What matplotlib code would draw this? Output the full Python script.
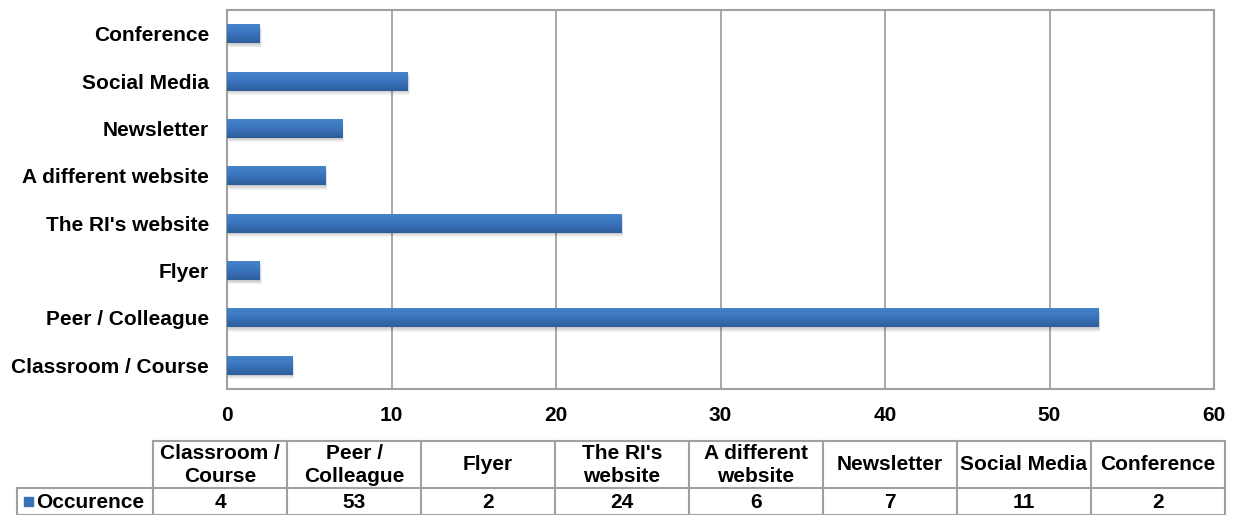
import numpy as np
import matplotlib
matplotlib.use("Agg")
import matplotlib.pyplot as plt
from matplotlib.colors import LinearSegmentedColormap
from matplotlib.patches import Rectangle

plt.rcParams['font.family'] = ['Liberation Sans', 'DejaVu Sans']
plt.rcParams['font.weight'] = 'bold'

categories = ['Classroom / Course', 'Peer / Colleague', 'Flyer', "The RI's website",
              'A different website', 'Newsletter', 'Social Media', 'Conference']
header_labels = ['Classroom /\nCourse', 'Peer /\nColleague', 'Flyer', "The RI's\nwebsite",
                 'A different\nwebsite', 'Newsletter', 'Social Media', 'Conference']
occurence = [4, 53, 2, 24, 6, 7, 11, 2]
series_name = 'Occurence'
xticks = [0, 10, 20, 30, 40, 50, 60]

FS = 15
W, H = 1234, 515
fig = plt.figure(figsize=(W / 100, H / 100), dpi=100)

# main bar axes
ax = fig.add_axes([227 / W, 1 - 389 / H, (1214 - 227) / W, (389 - 10) / H])
pos = np.arange(len(categories))
bh = 0.4
bars = ax.barh(pos, occurence, height=bh, color='#3a70b8', zorder=3)

# soft drop shadow under each bar
for b in bars:
    x0, y0 = b.get_x(), b.get_y()
    w, h = b.get_width(), b.get_height()
    for k in range(1, 6):
        ax.add_patch(Rectangle((x0 + 0.02 * k, y0 - 0.018 * k), w, h,
                               color='black', alpha=0.045, lw=0, zorder=2))

# vertical gradient fill, lighter on top
cmap = LinearSegmentedColormap.from_list('barg', ['#4584cc', '#3a73bb', '#2d5e9c'])
grad = np.linspace(0, 1, 64).reshape(-1, 1)
for b in bars:
    x0, y0 = b.get_x(), b.get_y()
    w, h = b.get_width(), b.get_height()
    im = ax.imshow(grad, cmap=cmap, aspect='auto', origin='lower',
                   extent=(x0, x0 + w, y0 + h, y0), zorder=4)
    im.set_clip_path(b)

ax.set_xlim(0, 60)
ax.set_ylim(-0.5, len(categories) - 0.5)
ax.set_xticks(xticks)
ax.set_xticklabels([str(t) for t in xticks], fontsize=FS, fontweight='bold')
ax.set_yticks(pos)
ax.set_yticklabels(categories, fontsize=FS, fontweight='bold')
ax.tick_params(axis='x', length=0, pad=12)
ax.tick_params(axis='y', length=0, pad=13)
ax.xaxis.grid(True, color='#9a9a9a', lw=1.2, zorder=0)
ax.set_axisbelow(True)
for s in ax.spines.values():
    s.set_color('#a0a0a0')
    s.set_linewidth(1.5)

# data table under the chart
tx0, tx1 = 17, 1225
tax = fig.add_axes([0, 0, 1, 1])
tax.set_xlim(0, W)
tax.set_ylim(H, 0)
tax.axis('off')

col_w = (tx1 - 153) / len(categories)
row1 = (441, 488)
row2 = (488, 515)
lc = '#a0a0a0'
lw = 1.5
col_edges = [153 + i * col_w for i in range(len(categories) + 1)]

# horizontal lines
tax.plot([153, tx1], [row1[0], row1[0]], color=lc, lw=lw)
tax.plot([tx0, tx1], [row2[0], row2[0]], color=lc, lw=lw)
tax.plot([tx0, tx1], [H - 0.5, H - 0.5], color=lc, lw=lw)
# vertical lines
for xe in col_edges:
    tax.plot([xe, xe], [row1[0], H], color=lc, lw=lw)
tax.plot([tx0, tx0], [row2[0], H], color=lc, lw=lw)

for i, (hl, v) in enumerate(zip(header_labels, occurence)):
    cx = col_edges[i] + col_w / 2
    tax.text(cx, (row1[0] + row1[1]) / 2 + 0.5, hl, ha='center', va='center',
             fontsize=FS, fontweight='bold', linespacing=1.3)
    tax.text(cx, (row2[0] + row2[1]) / 2 + 1, str(v), ha='center', va='center',
             fontsize=FS, fontweight='bold')

tax.add_patch(Rectangle((24, 497), 9, 9, color='#3a70b8'))
tax.text(36, (row2[0] + row2[1]) / 2 + 1, series_name, ha='left', va='center',
         fontsize=FS, fontweight='bold')

fig.savefig('out.png', dpi=100)
